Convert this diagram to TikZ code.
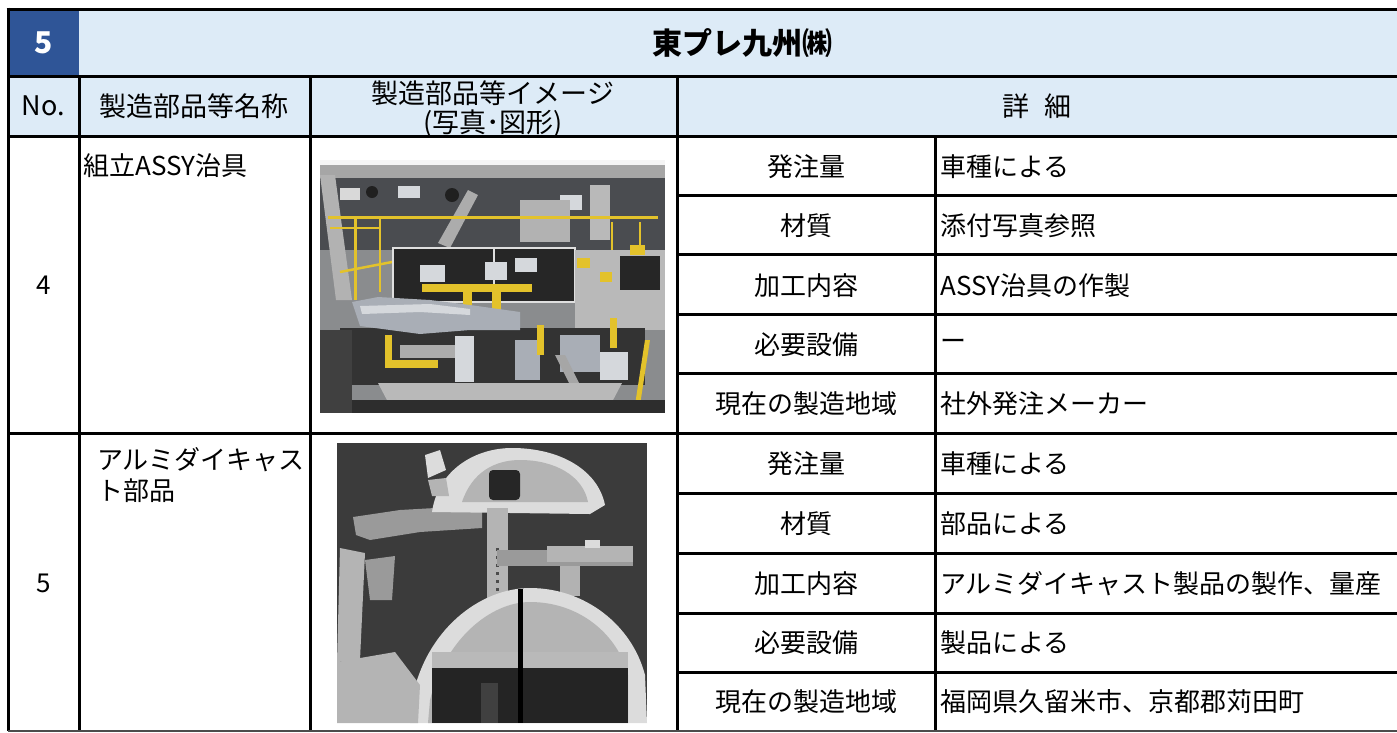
\documentclass[tikz,border=0pt]{standalone}
\usepackage{fontspec}
\setmainfont{Noto Sans CJK JP}
\definecolor{darkblue}{HTML}{2F5597}
\definecolor{lightblue}{HTML}{DDEBF7}
\definecolor{ph1bg}{HTML}{8A8C8E}
\definecolor{ph1dk}{HTML}{4A4C50}
\definecolor{jigyel}{HTML}{E3C22B}
\definecolor{metal}{HTML}{A9AEB6}
\definecolor{metallt}{HTML}{D5D8DC}
\definecolor{ph2bg}{HTML}{3B3B3B}
\definecolor{alu}{HTML}{B4B4B4}
\definecolor{alult}{HTML}{DCDCDC}
\definecolor{alumid}{HTML}{9A9A9A}
\begin{document}
\begin{tikzpicture}[x=1pt,y=-1pt,
  gridline/.style={line width=3pt,black},
  txt/.style={font=\fontsize{26}{31}\selectfont,inner sep=0pt},
  hdr/.style={font=\fontsize{27}{31}\selectfont,inner sep=0pt},
  ttl/.style={font=\fontsize{30}{34}\selectfont\bfseries,inner sep=0pt},
  lbl/.style={txt,anchor=center},
  val/.style={txt,anchor=west}]
\useasboundingbox (0,0) rectangle (1397,732);
% header fills
\fill[darkblue] (8,9) rectangle (79,76);
\fill[lightblue] (79,9) rectangle (1397,76);
\fill[lightblue] (8,76) rectangle (1397,136);

% ---------- photo 1 : assembly jig ----------
\begin{scope}
\clip (320,160) rectangle (665,413);
\fill[ph1bg] (320,160) rectangle (665,413);
\fill[ph1dk] (320,175) rectangle (665,250);
\fill[gray!70] (320,160) rectangle (665,178);
\fill[gray!8] (320,160) rectangle (665,165);
\fill[metallt] (398,186) rectangle (420,198);
\fill[metallt] (560,195) rectangle (582,210);
\fill[gray!60] (520,200) rectangle (570,242);
\fill[gray!25!black] (372,192) circle (6);
\fill[gray!25!black] (452,195) circle (7);
\fill[gray!30] (340,188) rectangle (360,200);
\fill[gray!55] (590,185) rectangle (610,240);
\fill[gray!65] (468,190) -- (478,195) -- (450,248) -- (438,243) -- cycle;
\fill[gray!60] (320,175) -- (335,175) -- (352,300) -- (336,300) -- cycle;
\draw[jigyel,line width=3pt] (328,217) -- (658,217);
\draw[jigyel,line width=2.5pt] (330,228) -- (380,228);
\draw[jigyel,line width=3pt] (355,217) -- (355,300);
\draw[jigyel,line width=2.5pt] (380,217) -- (380,292);
\draw[jigyel,line width=2.5pt] (340,272) -- (392,262);
\draw[jigyel,line width=2.5pt] (612,222) -- (612,250);
\draw[jigyel,line width=2.5pt] (640,222) -- (640,250);
\fill[black!85] (393,248) rectangle (575,302);
\draw[gray!25,line width=2pt] (393,248) rectangle (575,302);
\draw[gray!25,line width=2pt] (494,248) -- (494,302);
\fill[gray!55] (575,250) rectangle (665,330);
\fill[gray!30!black] (620,256) rectangle (660,290);
\fill[jigyel] (577,258) rectangle (590,268);
\fill[jigyel] (600,272) rectangle (612,282);
\fill[jigyel] (630,245) rectangle (645,255);
\fill[metallt] (420,265) rectangle (445,282);
\fill[metallt] (485,262) rectangle (507,280);
\fill[metallt] (515,258) rectangle (537,272);
\fill[jigyel] (422,284) rectangle (532,292);
\fill[jigyel] (463,292) rectangle (472,312);
\fill[jigyel] (492,292) rectangle (501,312);
\fill[gray!40!black] (340,328) rectangle (645,385);
\fill[metal] (352,302) -- (378,297) -- (430,300) -- (470,305) -- (520,312) -- (520,330) -- (470,330) -- (420,334) -- (360,326) -- cycle;
\fill[metallt] (360,306) -- (430,304) -- (470,309) -- (470,315) -- (420,312) -- (362,314) -- cycle;
\fill[gray!65] (400,345) rectangle (470,358);
\fill[metallt] (455,336) rectangle (474,382);
\fill[metal] (515,340) rectangle (540,380);
\fill[metal] (560,335) rectangle (600,372);
\fill[metallt] (600,352) rectangle (628,380);
\fill[gray!70] (555,355) -- (575,395) -- (585,395) -- (565,355) -- cycle;
\fill[jigyel] (385,360) rectangle (438,368);
\fill[jigyel] (385,335) rectangle (392,368);
\fill[jigyel] (537,325) rectangle (544,355);
\fill[jigyel] (610,318) rectangle (617,348);
\fill[jigyel] (645,340) -- (650,340) -- (640,405) -- (635,405) -- cycle;
\fill[gray!55] (378,383) -- (622,383) -- (612,402) -- (388,402) -- cycle;
\fill[gray!35!black] (320,400) rectangle (665,413);
\fill[gray!50!black] (320,330) rectangle (352,413);
\end{scope}

% ---------- photo 2 : aluminium die-cast part ----------
\begin{scope}
\clip (337,443) rectangle (647,723);
\fill[ph2bg] (337,443) rectangle (647,723);
\fill[alumid] (353,517) -- (400,510) -- (470,506) -- (482,512) -- (482,528) -- (420,532) -- (370,540) -- (356,535) -- cycle;
\fill[alult] (432,512) .. controls (438,470) and (475,448) .. (512,448) .. controls (560,448) and (598,470) .. (605,505) -- (590,514) -- cycle;
\fill[alu] (462,502) .. controls (472,472) and (495,460) .. (520,460) .. controls (555,460) and (583,476) .. (588,502) -- cycle;
\fill[gray!30!black,rounded corners=4pt] (489,470) rectangle (520,500);
\fill[alult] (425,455) -- (440,450) -- (446,470) -- (428,478) -- cycle;
\fill[alu] (428,480) -- (446,478) -- (449,496) -- (432,496) -- cycle;
\fill[alu] (487,508) rectangle (508,600);
\foreach \yy in {548,556,...,588} {\fill[black!70] (496,\yy) rectangle (499,\yy+3);}
\fill[alumid] (497,550) rectangle (633,566);
\fill[alu] (547,546) rectangle (633,562);
\fill[alult] (585,540) rectangle (600,548);
\fill[gray!60] (560,566) rectangle (580,596);
\fill[alu] (340,548) -- (365,553) -- (360,660) -- (337,662) -- cycle;
\fill[alumid] (365,560) -- (395,556) -- (392,600) -- (370,600) -- cycle;
\fill[alult] (410,723) -- (412,700) .. controls (425,630) and (480,588) .. (530,588) .. controls (585,588) and (632,625) .. (645,675) -- (647,723) -- cycle;
\fill[alu] (428,723) -- (430,700) .. controls (445,640) and (490,602) .. (530,602) .. controls (580,602) and (618,635) .. (628,675) -- (628,723) -- cycle;
\fill[gray!55] (432,652) rectangle (628,668);
\fill[gray!28!black] (432,668) rectangle (628,723);
\fill[alu] (337,662) -- (395,652) -- (420,685) -- (418,723) -- (337,723) -- cycle;
\fill[black] (518,589) rectangle (523,723);
\fill[black!75] (481,683) rectangle (498,723);
\end{scope}

% ---------- texts ----------
\node[ttl,text=white] (num) at (43.5,42.5) {5};
\node[ttl] (title) at (742,42.5) {東プレ九州㈱};
\node[hdr] (hno) at (43.5,106) {No.};
\node[hdr] (hname) at (194,106) {製造部品等名称};
\node[hdr] (himgA) at (493,93) {製造部品等イメージ};
\node[hdr] (himgB) at (493,124) {(写真･図形)};
\node[hdr] (hdet) at (1037,106) {詳\hspace{16pt}細};

\node[txt] (n4) at (43.5,285) {4};
\node[val] (name4) at (83,166) {組立ASSY治具};
\node[txt] (n5) at (43.5,583) {5};
\node[txt,anchor=north west,align=left] (name5) at (97,447) {アルミダイキャス\\ト部品};

\node[lbl] (a1) at (806,167) {発注量};
\node[lbl] (a2) at (806,226) {材質};
\node[lbl] (a3) at (806,286) {加工内容};
\node[lbl] (a4) at (806,345) {必要設備};
\node[lbl] (a5) at (806,404) {現在の製造地域};
\node[val] (v1) at (940,167) {車種による};
\node[val] (v2) at (940,226) {添付写真参照};
\node[val] (v3) at (940,286) {ASSY治具の作製};
\node[val] (v4) at (940,345) {ー};
\node[val] (v5) at (940,404) {社外発注メーカー};

\node[lbl] (b1) at (806,464) {発注量};
\node[lbl] (b2) at (806,524) {材質};
\node[lbl] (b3) at (806,584) {加工内容};
\node[lbl] (b4) at (806,643) {必要設備};
\node[lbl] (b5) at (806,702) {現在の製造地域};
\node[val] (w1) at (940,464) {車種による};
\node[val] (w2) at (940,524) {部品による};
\node[val] (w3) at (940,584) {アルミダイキャスト製品の製作、量産};
\node[val] (w4) at (940,643) {製品による};
\node[val] (w5) at (940,702) {福岡県久留米市、京都郡苅田町};

% ---------- grid ----------
\draw[gridline] (6.5,9) -- (1397,9);
\draw[gridline] (8,76) -- (1397,76);
\draw[gridline] (8,136) -- (1397,136);
\draw[gridline] (8,433) -- (1397,433);
\foreach \yy in {195.4,254.8,314.2,373.6,493,553,613,672}
  \draw[gridline] (677,\yy) -- (1397,\yy);
\draw[gridline] (8,7.5) -- (8,731);
\draw[gridline] (79,76) -- (79,731);
\draw[gridline] (310,76) -- (310,731);
\draw[gridline] (677,76) -- (677,731);
\draw[gridline] (935,136) -- (935,731);
\draw[line width=1.5pt,black!70] (8,731) -- (1397,731);
\end{tikzpicture}
\end{document}
